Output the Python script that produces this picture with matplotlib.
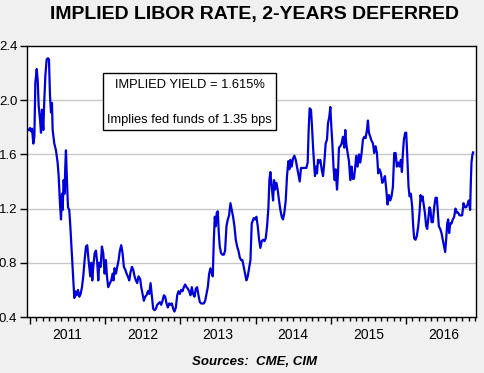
import matplotlib
matplotlib.use("Agg")
import matplotlib.pyplot as plt
from matplotlib.patches import Rectangle
import numpy as np

plt.rcParams['font.family'] = ['Liberation Sans', 'DejaVu Sans']

# 日付は年の小数表記、値は利回り(%)
t_2011 = [2010.982, 2011.000, 2011.013, 2011.027, 2011.044, 2011.058, 2011.071, 2011.089, 2011.102, 2011.115,
          2011.133, 2011.146, 2011.159, 2011.177, 2011.190, 2011.204, 2011.221, 2011.239, 2011.252, 2011.266,
          2011.279, 2011.292, 2011.301, 2011.323, 2011.345, 2011.367, 2011.381, 2011.398, 2011.412, 2011.425,
          2011.434, 2011.447, 2011.460, 2011.469, 2011.478, 2011.491, 2011.505, 2011.522, 2011.536, 2011.549,
          2011.562, 2011.576, 2011.589, 2011.602, 2011.620, 2011.638, 2011.655, 2011.673, 2011.691, 2011.708,
          2011.726, 2011.744, 2011.761, 2011.775, 2011.788, 2011.801, 2011.815, 2011.828, 2011.841, 2011.859,
          2011.877, 2011.894, 2011.908, 2011.921, 2011.939, 2011.956, 2011.974, 2011.992, 2012.009, 2012.023,
          2012.040, 2012.063, 2012.080, 2012.098, 2012.111, 2012.124, 2012.142, 2012.160, 2012.178, 2012.195,
          2012.213, 2012.231, 2012.248, 2012.266, 2012.284, 2012.301, 2012.319, 2012.337, 2012.355, 2012.372,
          2012.390, 2012.408, 2012.425, 2012.443, 2012.465]
r_2011 = [1.78, 1.795, 1.77, 1.79, 1.68, 1.73, 2.13, 2.23, 2.15, 1.96,
          1.86, 1.76, 1.93, 1.78, 2.00, 2.18, 2.30, 2.31, 2.30, 2.03,
          1.91, 1.98, 1.78, 1.68, 1.63, 1.54, 1.44, 1.24, 1.12, 1.31,
          1.19, 1.41, 1.31, 1.51, 1.63, 1.41, 1.21, 1.19, 1.07, 0.94,
          0.82, 0.67, 0.54, 0.59, 0.56, 0.60, 0.55, 0.57, 0.62, 0.70,
          0.82, 0.92, 0.93, 0.84, 0.77, 0.70, 0.80, 0.67, 0.77, 0.87,
          0.89, 0.80, 0.67, 0.80, 0.77, 0.92, 0.87, 0.72, 0.82, 0.70,
          0.62, 0.65, 0.67, 0.72, 0.67, 0.76, 0.72, 0.77, 0.82, 0.89,
          0.93, 0.87, 0.77, 0.75, 0.72, 0.70, 0.67, 0.73, 0.77, 0.75,
          0.70, 0.67, 0.65, 0.70, 0.68]

t_2012 = [2012.479, 2012.496, 2012.514, 2012.532, 2012.549, 2012.567, 2012.585, 2012.603, 2012.620, 2012.638,
          2012.656, 2012.673, 2012.691, 2012.709, 2012.727, 2012.744, 2012.762, 2012.780, 2012.797, 2012.815,
          2012.833, 2012.850, 2012.868, 2012.886, 2012.904, 2012.921, 2012.939, 2012.957, 2012.974, 2012.992,
          2013.010, 2013.028, 2013.045, 2013.063, 2013.081, 2013.098, 2013.116, 2013.134, 2013.151, 2013.169,
          2013.187, 2013.205, 2013.222, 2013.240, 2013.258, 2013.275, 2013.293, 2013.311, 2013.329, 2013.346,
          2013.364, 2013.382, 2013.399, 2013.417, 2013.430, 2013.444, 2013.457, 2013.470, 2013.483, 2013.497,
          2013.510, 2013.523, 2013.541, 2013.559, 2013.577, 2013.594, 2013.612, 2013.630, 2013.647, 2013.665,
          2013.683, 2013.700, 2013.718, 2013.736, 2013.754, 2013.771, 2013.789, 2013.807, 2013.824, 2013.842,
          2013.860, 2013.877, 2013.895, 2013.913, 2013.931, 2013.948]
r_2012 = [0.62, 0.57, 0.52, 0.55, 0.56, 0.59, 0.57, 0.65, 0.56, 0.46,
          0.45, 0.46, 0.49, 0.50, 0.51, 0.49, 0.52, 0.56, 0.55, 0.50,
          0.47, 0.50, 0.49, 0.50, 0.46, 0.44, 0.47, 0.56, 0.59, 0.57,
          0.60, 0.59, 0.62, 0.64, 0.62, 0.61, 0.59, 0.56, 0.62, 0.57,
          0.55, 0.61, 0.62, 0.56, 0.51, 0.50, 0.50, 0.50, 0.52, 0.57,
          0.62, 0.72, 0.76, 0.72, 0.70, 0.97, 1.14, 1.07, 1.17, 1.18,
          1.02, 0.92, 0.87, 0.86, 0.86, 0.89, 1.07, 1.12, 1.15, 1.24,
          1.19, 1.14, 1.07, 0.97, 0.92, 0.89, 0.84, 0.82, 0.82, 0.77,
          0.72, 0.67, 0.70, 0.76, 0.82, 1.09]

t_2014 = [2013.975, 2013.992, 2014.010, 2014.028, 2014.046, 2014.063, 2014.081, 2014.099, 2014.116, 2014.134,
          2014.152, 2014.170, 2014.183, 2014.196, 2014.214, 2014.232, 2014.245, 2014.258, 2014.276, 2014.293,
          2014.311, 2014.329, 2014.347, 2014.364, 2014.382, 2014.400, 2014.417, 2014.435, 2014.448, 2014.462,
          2014.479, 2014.497, 2014.515, 2014.533, 2014.550, 2014.568, 2014.586, 2014.603, 2014.621, 2014.639,
          2014.657, 2014.674, 2014.692, 2014.705, 2014.718, 2014.736, 2014.749, 2014.763, 2014.776, 2014.789,
          2014.803, 2014.816, 2014.829, 2014.842, 2014.860, 2014.878, 2014.896, 2014.913, 2014.931, 2014.949,
          2014.962, 2014.980, 2014.993, 2015.006, 2015.020, 2015.037, 2015.051, 2015.064, 2015.082, 2015.095,
          2015.108, 2015.126, 2015.143, 2015.161, 2015.179, 2015.192, 2015.205, 2015.223, 2015.241, 2015.259,
          2015.276, 2015.290, 2015.307, 2015.325, 2015.338, 2015.356, 2015.374, 2015.391, 2015.409, 2015.427,
          2015.444]
r_2014 = [1.13, 1.12, 1.14, 1.07, 0.97, 0.91, 0.96, 0.97, 0.96, 0.98,
          1.07, 1.21, 1.41, 1.47, 1.36, 1.26, 1.41, 1.34, 1.39, 1.34,
          1.26, 1.19, 1.14, 1.12, 1.17, 1.26, 1.44, 1.55, 1.49, 1.56,
          1.51, 1.57, 1.59, 1.56, 1.51, 1.46, 1.40, 1.50, 1.50, 1.50,
          1.50, 1.50, 1.54, 1.78, 1.94, 1.93, 1.81, 1.66, 1.54, 1.44,
          1.51, 1.46, 1.56, 1.54, 1.56, 1.49, 1.44, 1.54, 1.68, 1.71,
          1.83, 1.88, 1.95, 1.81, 1.68, 1.49, 1.41, 1.49, 1.34, 1.46,
          1.65, 1.66, 1.68, 1.73, 1.65, 1.78, 1.68, 1.61, 1.55, 1.41,
          1.51, 1.42, 1.42, 1.51, 1.59, 1.51, 1.60, 1.54, 1.61, 1.71,
          1.73]

t_2015 = [2015.462, 2015.480, 2015.493, 2015.506, 2015.524, 2015.542, 2015.560, 2015.577, 2015.595, 2015.613,
          2015.630, 2015.648, 2015.666, 2015.683, 2015.701, 2015.719, 2015.737, 2015.754, 2015.772, 2015.790,
          2015.807, 2015.825, 2015.843, 2015.861, 2015.878, 2015.896, 2015.914, 2015.931, 2015.945, 2015.958,
          2015.971, 2015.989, 2016.002, 2016.016, 2016.033, 2016.047, 2016.064, 2016.082, 2016.095, 2016.108,
          2016.126, 2016.144, 2016.162, 2016.179, 2016.193, 2016.206, 2016.219, 2016.232, 2016.250, 2016.268,
          2016.281, 2016.294, 2016.312, 2016.325, 2016.339, 2016.356, 2016.374, 2016.392, 2016.409, 2016.423,
          2016.436, 2016.454, 2016.471, 2016.489, 2016.507, 2016.520, 2016.533, 2016.547, 2016.560, 2016.573,
          2016.587, 2016.604, 2016.622, 2016.640, 2016.657, 2016.675, 2016.693, 2016.711, 2016.728, 2016.746,
          2016.764, 2016.781, 2016.799, 2016.817, 2016.834, 2016.852, 2016.861, 2016.870, 2016.883, 2016.892]
r_2015 = [1.72, 1.78, 1.85, 1.76, 1.73, 1.70, 1.68, 1.61, 1.66, 1.61,
          1.46, 1.49, 1.46, 1.39, 1.41, 1.44, 1.34, 1.23, 1.30, 1.26,
          1.29, 1.36, 1.61, 1.61, 1.51, 1.54, 1.51, 1.56, 1.47, 1.61,
          1.71, 1.76, 1.76, 1.59, 1.36, 1.29, 1.31, 1.21, 1.07, 0.98,
          0.97, 1.00, 1.07, 1.17, 1.30, 1.26, 1.29, 1.24, 1.17, 1.07,
          1.05, 1.12, 1.21, 1.19, 1.10, 1.10, 1.21, 1.28, 1.28, 1.17,
          1.07, 1.05, 1.02, 0.97, 0.92, 0.88, 0.97, 1.09, 1.12, 1.02,
          1.09, 1.09, 1.12, 1.14, 1.20, 1.17, 1.17, 1.15, 1.15, 1.15,
          1.24, 1.21, 1.21, 1.23, 1.26, 1.19, 1.39, 1.54, 1.60, 1.615]

years = [2011, 2012, 2013, 2014, 2015, 2016]
yticks = [0.4, 0.8, 1.2, 1.6, 2.0, 2.4]

t = t_2011 + t_2012 + t_2014 + t_2015
r = r_2011 + r_2012 + r_2014 + r_2015

fig = plt.figure(figsize=(4.84, 3.73), dpi=100, facecolor='#f0f0f0')
ax = fig.add_axes([27/484, 1-317/373, 449/484, 271/373])
ax.set_facecolor('white')

for y in yticks[1:-1]:
    ax.axhline(y, color='#c8c8c8', lw=1.0, zorder=1)

ax.plot(t, r, color='#0000dd', lw=1.6, zorder=3)

ax.set_xlim(2010.96, 2016.93)
ax.set_ylim(0.4, 2.4)

# 年の境目に大目盛、月ごとに小目盛、ラベルは年の真ん中
ax.set_xticks(years)
ax.set_xticklabels([])
months = [y + m/12 for y in [2010] + years for m in range(12)]
months = [m for m in months if 2010.96 < m < 2016.93 and abs(m - round(m)) > 0.01]
ax.set_xticks(months, minor=True)
ax.tick_params(axis='x', which='major', length=5, direction='out', width=1)
ax.tick_params(axis='x', which='minor', length=3, direction='out', width=1)
for y in years:
    ax.text(y + 0.5, -0.04, str(y), transform=ax.get_xaxis_transform(),
            ha='center', va='top', fontsize=10)

ax.set_yticks(yticks)
ax.set_yticklabels(['0.4', '0.8', '1.2', '1.6', '2.0', '2.4'], fontsize=9.5)
ax.tick_params(axis='y', length=5, direction='out', width=1, pad=2)

for s in ax.spines.values():
    s.set_linewidth(1.0)
    s.set_color('black')

# 注記ボックス
ax.add_patch(Rectangle((0.169, 0.690), 0.386, 0.210, transform=ax.transAxes,
                       facecolor='white', edgecolor='black', lw=1.0, zorder=4))
ax.text(0.362, 0.856, 'IMPLIED YIELD = 1.615%', transform=ax.transAxes,
        ha='center', va='center', fontsize=9.3, zorder=5)
ax.text(0.362, 0.727, 'Implies fed funds of 1.35 bps', transform=ax.transAxes,
        ha='center', va='center', fontsize=9.3, zorder=5)

fig.text(254/484, 1-14/373, 'IMPLIED LIBOR RATE, 2-YEARS DEFERRED',
         ha='center', va='center', fontsize=14, fontweight='bold')
fig.text(255/484, 1-362/373, 'Sources:  CME, CIM',
         ha='center', va='center', fontsize=9.5, fontweight='bold', style='italic')

fig.savefig('out.png', dpi=100, facecolor=fig.get_facecolor())
